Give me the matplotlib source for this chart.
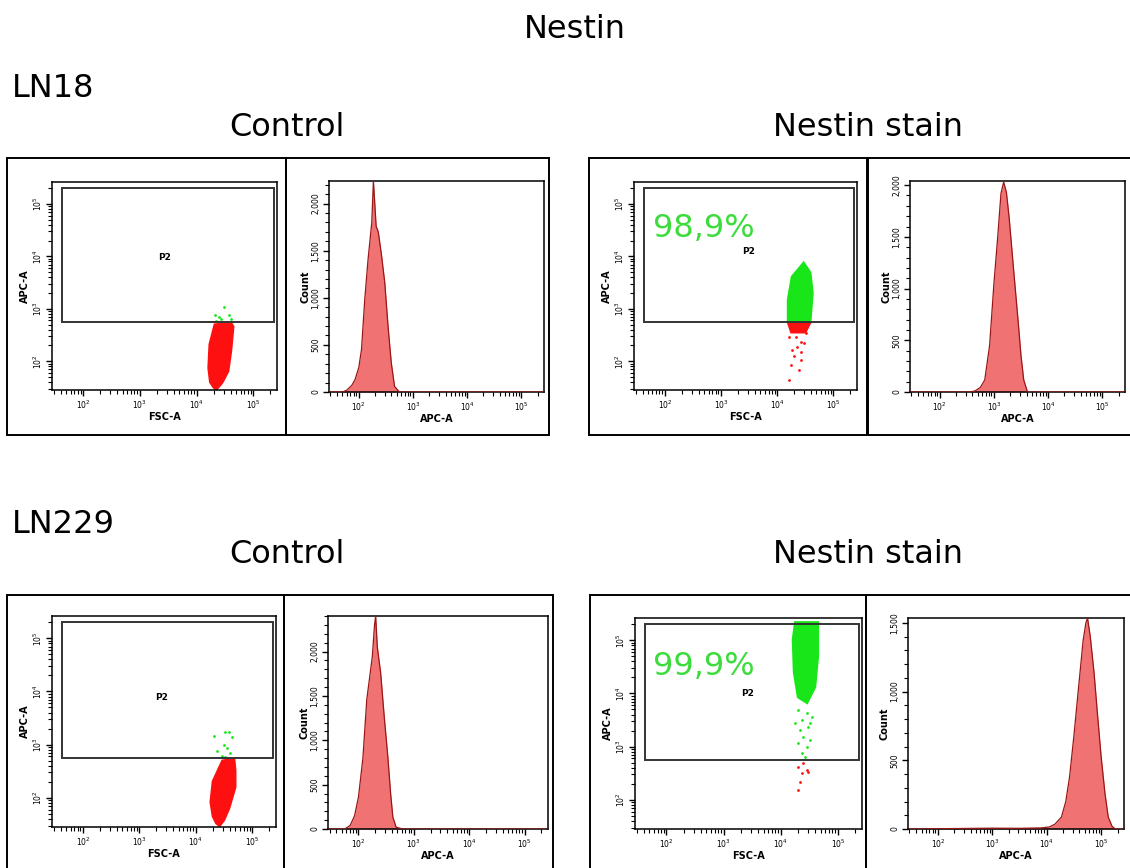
import numpy as np
import matplotlib
matplotlib.use("Agg")
import matplotlib.pyplot as plt
from matplotlib.patches import Rectangle
from matplotlib.ticker import FixedLocator, LogLocator, MultipleLocator, NullFormatter, FuncFormatter

# ---------------- data (log10 units for fluorescence / scatter) ----------------
AX_RANGE = [1.45, 5.42]           # log10 axis limits (FSC-A, APC-A)
GATE_FSC = [1.62, 5.37]           # P2 gate, log10 FSC-A
GATE_APC = [2.75, 5.31]           # P2 gate, log10 APC-A
DECADES = [2, 3, 4, 5]

titles_col = ["Control", "Nestin stain"]
titles_row = ["LN18", "LN229"]
pct_labels = ["98,9%", "99,9%"]

# LN18 control dot plot: red cluster outline + green events above gate
ln18_ctrl_red_fsc = [4.61, 4.32, 4.23, 4.21, 4.24, 4.30, 4.35, 4.44, 4.47, 4.56, 4.61, 4.65]
ln18_ctrl_red_apc = [2.73, 2.70, 2.32, 1.87, 1.60, 1.50, 1.46, 1.57, 1.62, 1.81, 2.19, 2.66]
ln18_ctrl_green_fsc = [4.32, 4.40, 4.49, 4.58, 4.44, 4.61, 4.35]
ln18_ctrl_green_apc = [2.89, 2.85, 3.04, 2.89, 2.81, 2.81, 2.77]

# LN18 nestin dot plot
ln18_nes_green_fsc = [4.47, 4.26, 4.19, 4.19, 4.59, 4.63, 4.59]
ln18_nes_green_apc = [3.88, 3.61, 3.17, 2.76, 2.76, 3.30, 3.69]
ln18_nes_red_band_fsc = [4.19, 4.59, 4.50, 4.25]
ln18_nes_red_band_apc = [2.74, 2.74, 2.55, 2.55]
ln18_nes_red_fsc = [4.21, 4.42, 4.35, 4.26, 4.47, 4.30, 4.42, 4.24, 4.38, 4.21, 4.33, 4.52, 4.43]
ln18_nes_red_apc = [2.47, 2.37, 2.28, 2.22, 2.35, 2.09, 2.03, 1.93, 1.84, 1.65, 2.47, 2.54, 2.17]

# LN229 control dot plot
ln229_ctrl_red_fsc = [4.68, 4.47, 4.30, 4.26, 4.30, 4.36, 4.42, 4.50, 4.59, 4.70, 4.70]
ln229_ctrl_red_apc = [2.73, 2.70, 2.31, 1.92, 1.65, 1.52, 1.47, 1.58, 1.80, 2.20, 2.51]
ln229_ctrl_green_fsc = [4.33, 4.52, 4.59, 4.64, 4.50, 4.56, 4.38, 4.61, 4.47, 4.52]
ln229_ctrl_green_apc = [3.16, 3.24, 3.24, 3.14, 3.00, 2.94, 2.88, 2.84, 2.78, 2.76]

# LN229 nestin dot plot
ln229_nes_green_fsc = [4.25, 4.65, 4.65, 4.60, 4.46, 4.30, 4.23, 4.21]
ln229_nes_green_apc = [5.34, 5.34, 4.69, 4.12, 3.82, 3.93, 4.39, 5.01]
ln229_nes_sparse_fsc = [4.30, 4.46, 4.37, 4.51, 4.34, 4.48, 4.39, 4.30, 4.46, 4.37, 4.42, 4.55, 4.25, 4.51]
ln229_nes_sparse_apc = [3.69, 3.63, 3.50, 3.45, 3.31, 3.37, 3.18, 3.07, 2.99, 2.88, 2.81, 3.56, 3.45, 3.13]
ln229_nes_red_fsc = [4.39, 4.30, 4.46, 4.37, 4.48, 4.34, 4.30]
ln229_nes_red_apc = [2.69, 2.62, 2.56, 2.50, 2.52, 2.33, 2.18]

# APC-A histograms (log10 APC-A, count)
ln18_ctrl_hist_apc = [1.45, 1.70, 1.78, 1.87, 1.93, 2.00, 2.05, 2.11, 2.17, 2.24, 2.27, 2.29, 2.32, 2.36,
                      2.42, 2.48, 2.54, 2.60, 2.66, 2.75, 5.42]
ln18_ctrl_hist_cnt = [0, 0, 20, 70, 130, 260, 450, 980, 1400, 1800, 2240, 2050, 1760, 1700,
                      1450, 1160, 700, 310, 60, 0, 0]
ln18_nes_hist_apc = [1.45, 2.55, 2.65, 2.75, 2.83, 2.92, 3.00, 3.07, 3.13, 3.18, 3.23, 3.28, 3.36, 3.44,
                     3.50, 3.55, 3.62, 5.42]
ln18_nes_hist_cnt = [0, 0, 10, 45, 116, 450, 1050, 1500, 1920, 2030, 1930, 1690, 1200, 725,
                     350, 116, 0, 0]
ln229_ctrl_hist_apc = [1.45, 1.75, 1.85, 1.93, 2.00, 2.08, 2.15, 2.20, 2.25, 2.29, 2.31, 2.34, 2.40, 2.46,
                       2.53, 2.58, 2.62, 2.68, 2.80, 5.42]
ln229_ctrl_hist_cnt = [0, 0, 40, 150, 360, 800, 1460, 1700, 1945, 2300, 2400, 2050, 1760, 1300,
                       810, 400, 135, 20, 0, 0]
ln229_nes_hist_apc = [1.45, 2.50, 3.00, 3.50, 3.90, 4.05, 4.15, 4.27, 4.35, 4.42, 4.50, 4.58, 4.67, 4.72,
                      4.75, 4.80, 4.87, 4.94, 5.00, 5.07, 5.13, 5.20, 5.26, 5.42]
ln229_nes_hist_cnt = [0, 4, 6, 5, 8, 15, 35, 87, 200, 380, 680, 1010, 1375, 1500,
                      1535, 1400, 1135, 800, 525, 260, 87, 20, 0, 0]
hist_ymax = [2240, 2040, 2400, 1535]

# ---------------- styling ----------------
RED = "#ff1010"
GREEN = "#19e619"
PCT_GREEN = "#3ddc3d"
HIST_FILL = "#f07272"
HIST_EDGE = "#9a1515"

W, H = 1130, 868
fig = plt.figure(figsize=(W / 100, H / 100), dpi=100)
fig.patch.set_facecolor("white")


def rect(l, r, t, b):
    return [l / W, 1 - b / H, (r - l) / W, (b - t) / H]


def fx(x):
    return x / W


def fy(y):
    return 1 - y / H


def box(l, r, t, b):
    fig.add_artist(Rectangle((fx(l), fy(b)), (r - l) / W, (b - t) / H, transform=fig.transFigure,
                             fill=False, lw=1.4, ec="black"))


def pow_label(v, pos):
    e = int(round(np.log10(v)))
    return r"$10^{%d}$" % e


def style_log_axis(axis):
    axis.set_major_locator(FixedLocator([10.0 ** d for d in DECADES]))
    axis.set_minor_locator(LogLocator(base=10, subs=np.arange(2, 10), numticks=60))
    axis.set_minor_formatter(NullFormatter())
    axis.set_major_formatter(FuncFormatter(pow_label))


def common(ax):
    for s in ax.spines.values():
        s.set_linewidth(1.1)
    ax.tick_params(which="major", direction="out", length=4.5, width=1.0, labelsize=5.5, pad=1.5)
    ax.tick_params(which="minor", direction="out", length=2.6, width=0.8)
    ax.tick_params(axis="y", labelrotation=90)
    for lab in ax.get_yticklabels():
        lab.set_va("center")


def scatter_panel(pos, red_polys, green_polys, red_pts, green_pts):
    ax = fig.add_axes(rect(*pos))
    ax.set_xscale("log")
    ax.set_yscale("log")
    lo, hi = 10.0 ** AX_RANGE[0], 10.0 ** AX_RANGE[1]
    ax.set_xlim(lo, hi)
    ax.set_ylim(lo, hi)
    style_log_axis(ax.xaxis)
    style_log_axis(ax.yaxis)
    gx0, gx1 = 10.0 ** GATE_FSC[0], 10.0 ** GATE_FSC[1]
    gy0, gy1 = 10.0 ** GATE_APC[0], 10.0 ** GATE_APC[1]
    ax.add_patch(Rectangle((gx0, gy0), gx1 - gx0, gy1 - gy0, fill=False, ec="#333333", lw=1.4, zorder=4))
    for px, py in red_polys:
        ax.fill(10.0 ** np.array(px), 10.0 ** np.array(py), color=RED, lw=1.6, ec=RED, zorder=2)
    for px, py in green_polys:
        ax.fill(10.0 ** np.array(px), 10.0 ** np.array(py), color=GREEN, lw=1.6, ec=GREEN, zorder=2)
    for px, py in red_pts:
        ax.scatter(10.0 ** np.array(px), 10.0 ** np.array(py), s=4, color=RED, lw=0, zorder=3)
    for px, py in green_pts:
        ax.scatter(10.0 ** np.array(px), 10.0 ** np.array(py), s=4, color=GREEN, lw=0, zorder=3)
    ax.set_xlabel("FSC-A", fontsize=7, fontweight="bold", labelpad=1)
    ax.set_ylabel("APC-A", fontsize=7, fontweight="bold", labelpad=1)
    common(ax)
    return ax


def hist_panel(pos, xs, cnt, ymax):
    ax = fig.add_axes(rect(*pos))
    ax.set_xscale("log")
    lo, hi = 10.0 ** AX_RANGE[0], 10.0 ** AX_RANGE[1]
    ax.set_xlim(lo, hi)
    ax.set_ylim(0, ymax)
    style_log_axis(ax.xaxis)
    ax.yaxis.set_major_locator(MultipleLocator(500))
    ax.yaxis.set_minor_locator(MultipleLocator(100))
    ax.yaxis.set_major_formatter(FuncFormatter(lambda v, p: "{:,.0f}".format(v)))
    xv = 10.0 ** np.array(xs)
    ax.fill_between(xv, cnt, 0, color=HIST_FILL, lw=0, zorder=2)
    ax.plot(xv, cnt, color=HIST_EDGE, lw=0.9, zorder=3)
    ax.set_xlabel("APC-A", fontsize=7, fontweight="bold", labelpad=1)
    ax.set_ylabel("Count", fontsize=7, fontweight="bold", labelpad=1)
    common(ax)
    return ax


# ---------------- outer panel frames ----------------
for (l, r, t, b) in [(7, 286, 158, 435), (286, 549, 158, 435), (589, 867, 158, 435), (868, 1140, 158, 435),
                     (7, 284, 595, 880), (284, 553, 595, 880), (590, 866, 595, 880), (866, 1140, 595, 880)]:
    box(l, r, t, b)

# ---------------- row 1: LN18 ----------------
scatter_panel((52, 277, 182, 390),
              [(ln18_ctrl_red_fsc, ln18_ctrl_red_apc)], [],
              [], [(ln18_ctrl_green_fsc, ln18_ctrl_green_apc)])
hist_panel((329, 544, 181, 392), ln18_ctrl_hist_apc, ln18_ctrl_hist_cnt, hist_ymax[0])
scatter_panel((634, 857, 182, 390),
              [(ln18_nes_red_band_fsc, ln18_nes_red_band_apc)],
              [(ln18_nes_green_fsc, ln18_nes_green_apc)],
              [(ln18_nes_red_fsc, ln18_nes_red_apc)], [])
hist_panel((910, 1125, 181, 392), ln18_nes_hist_apc, ln18_nes_hist_cnt, hist_ymax[1])

# ---------------- row 2: LN229 ----------------
scatter_panel((52, 276, 616, 827),
              [(ln229_ctrl_red_fsc, ln229_ctrl_red_apc)], [],
              [], [(ln229_ctrl_green_fsc, ln229_ctrl_green_apc)])
hist_panel((328, 548, 616, 829), ln229_ctrl_hist_apc, ln229_ctrl_hist_cnt, hist_ymax[2])
scatter_panel((635, 862, 618, 829),
              [], [(ln229_nes_green_fsc, ln229_nes_green_apc)],
              [(ln229_nes_red_fsc, ln229_nes_red_apc)],
              [(ln229_nes_sparse_fsc, ln229_nes_sparse_apc)])
hist_panel((908, 1124, 618, 829), ln229_nes_hist_apc, ln229_nes_hist_cnt, hist_ymax[3])

# ---------------- texts ----------------
TS = 23
fig.text(fx(575), fy(38), "Nestin", fontsize=TS, ha="center", va="baseline")
fig.text(fx(12), fy(97), titles_row[0], fontsize=TS, ha="left", va="baseline")
fig.text(fx(12), fy(533), titles_row[1], fontsize=TS, ha="left", va="baseline")
for yb in (136, 563):
    fig.text(fx(287), fy(yb), titles_col[0], fontsize=TS, ha="center", va="baseline")
    fig.text(fx(868), fy(yb), titles_col[1], fontsize=TS, ha="center", va="baseline")

fig.text(fx(653), fy(237), pct_labels[0], fontsize=TS, color=PCT_GREEN, ha="left", va="baseline")
fig.text(fx(653), fy(675), pct_labels[1], fontsize=TS, color=PCT_GREEN, ha="left", va="baseline")

for (x, y) in [(165, 257), (749, 252), (162, 697), (748, 694)]:
    fig.text(fx(x), fy(y), "P2", fontsize=6.5, fontweight="bold", ha="center", va="center")

fig.savefig("out.png", dpi=100, facecolor="white")
